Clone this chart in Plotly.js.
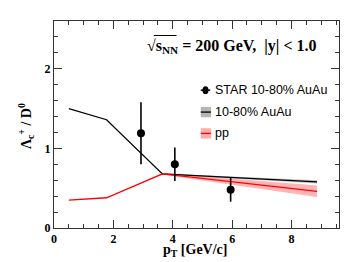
<!DOCTYPE html>
<html><head><meta charset="utf-8">
<script src="https://cdn.plot.ly/plotly-3.0.1.min.js"></script>
<style>html,body{margin:0;padding:0;background:#fff}#c{width:357px;height:262px}</style>
</head><body><div id="c"></div>
<script>
// model curves
const modelPt = [0.5, 1.77, 3.65, 8.86];
const auau    = [1.50, 1.36, 0.68, 0.58];
const auauLo  = [1.50, 1.36, 0.675, 0.56];
const auauHi  = [1.50, 1.36, 0.685, 0.60];
const pp      = [0.35, 0.38, 0.68, 0.46];
const ppLo    = [0.35, 0.38, 0.67, 0.39];
const ppHi    = [0.35, 0.38, 0.69, 0.535];
// STAR data
const starPt  = [2.93, 4.07, 5.95];
const starVal = [1.19, 0.80, 0.48];
const starErr = [0.39, 0.21, 0.15];
const xTicks = [0, 2, 4, 6, 8];
const yTicks = [0, 1, 2];

const serif = 'Liberation Serif';
const sans = 'Liberation Sans';

function band(x, lo, hi, color){
  return {x: x.concat(x.slice().reverse()), y: hi.concat(lo.slice().reverse()),
    mode:'lines', fill:'toself', fillcolor:color, line:{width:0}, hoverinfo:'skip', showlegend:false};
}
const traces = [
  band(modelPt, auauLo, auauHi, 'rgba(150,150,150,0.6)'),
  band(modelPt, ppLo, ppHi, 'rgba(255,120,120,0.55)'),
  {x:modelPt, y:auau, mode:'lines', line:{color:'#000', width:1.3}, showlegend:false},
  {x:modelPt, y:pp, mode:'lines', line:{color:'#ff0000', width:1.3}, showlegend:false},
  {x:starPt, y:starVal, mode:'markers', marker:{color:'#000', size:8},
   error_y:{type:'data', array:starErr, color:'#000', thickness:1.6, width:0}, showlegend:false}
];

const axisCommon = {showgrid:false, zeroline:false, showline:true, linecolor:'#333', linewidth:1,
  mirror:'allticks', ticks:'inside', ticklen:8, tickcolor:'#333',
  tickfont:{family:serif, size:12, weight:'bold', color:'#000'}};

const layout = {
  width:357, height:262, margin:{l:53.5, r:18.3, t:20.7, b:34.3},
  paper_bgcolor:'#fff', plot_bgcolor:'#fff', showlegend:false,
  xaxis: Object.assign({}, axisCommon, {range:[0,9.6], tickvals:xTicks, ticktext:xTicks.map(String),
    minor:{dtick:0.5, tick0:0, ticks:'inside', ticklen:4, tickcolor:'#333'}}),
  yaxis: Object.assign({}, axisCommon, {range:[0,2.6], tickvals:yTicks, ticktext:yTicks.map(String),
    minor:{dtick:0.2, tick0:0, ticks:'inside', ticklen:4, tickcolor:'#333'}}),
  annotations:[
    {xref:'paper', yref:'paper', x:0.321, y:0.878, xanchor:'left', yanchor:'middle', showarrow:false,
     text:'√s<sub>NN</sub> = 200 GeV,  |y| < 1.0', font:{family:serif, size:16, weight:'bold', color:'#000'}},
    {xref:'paper', yref:'paper', x:-0.1, y:0.49, xanchor:'center', yanchor:'middle', showarrow:false, textangle:-90,
     text:'Λ<sub>c</sub><sup>+</sup> / D<sup>0</sup>', font:{family:serif, size:14, weight:'bold', color:'#000'}},
    {xref:'paper', yref:'paper', x:0.497, y:-0.108, xanchor:'center', yanchor:'middle', showarrow:false,
     text:'p<sub>T</sub> [GeV/c]', font:{family:serif, size:14, weight:'bold', color:'#000'}},
    {xref:'paper', yref:'paper', x:0.558, y:0.666, xanchor:'left', yanchor:'middle', showarrow:false,
     text:'STAR 10-80% AuAu', font:{family:sans, size:12.5, color:'#000'}},
    {xref:'paper', yref:'paper', x:0.558, y:0.56, xanchor:'left', yanchor:'middle', showarrow:false,
     text:'10-80% AuAu', font:{family:sans, size:12.5, color:'#000'}},
    {xref:'paper', yref:'paper', x:0.558, y:0.457, xanchor:'left', yanchor:'middle', showarrow:false,
     text:'pp', font:{family:sans, size:12.5, color:'#000'}}
  ],
  shapes:[
    // sqrt overline
    {type:'line', xref:'paper', yref:'paper', x0:0.35, x1:0.43, y0:0.93, y1:0.93, line:{color:'#000', width:1}},
    // legend STAR
    {type:'line', xref:'paper', yref:'paper', x0:0.515, x1:0.548, y0:0.666, y1:0.666, line:{color:'#000', width:1.5}},
    {type:'circle', xref:'paper', yref:'paper', x0:0.521, x1:0.542, y0:0.647, y1:0.685, fillcolor:'#000', line:{color:'#000', width:0}},
    // legend AuAu
    {type:'rect', xref:'paper', yref:'paper', x0:0.515, x1:0.551, y0:0.535, y1:0.585, fillcolor:'rgba(150,150,150,0.7)', line:{width:0}},
    {type:'line', xref:'paper', yref:'paper', x0:0.515, x1:0.551, y0:0.56, y1:0.56, line:{color:'#000', width:1.3}},
    // legend pp
    {type:'rect', xref:'paper', yref:'paper', x0:0.515, x1:0.551, y0:0.432, y1:0.482, fillcolor:'rgba(255,120,120,0.6)', line:{width:0}},
    {type:'line', xref:'paper', yref:'paper', x0:0.515, x1:0.551, y0:0.457, y1:0.457, line:{color:'#ff0000', width:1.3}}
  ]
};
Plotly.newPlot('c', traces, layout, {displayModeBar:false, staticPlot:true});
</script></body></html>
